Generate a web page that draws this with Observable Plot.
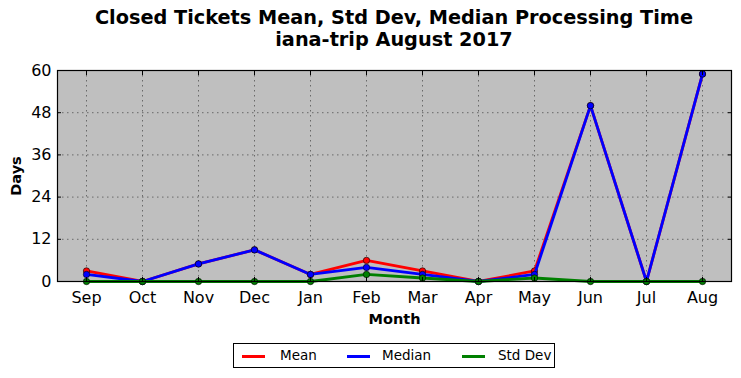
<!DOCTYPE html>
<html>
<head>
<meta charset="utf-8">
<script src="https://cdn.jsdelivr.net/npm/d3@7"></script>
<script src="https://cdn.jsdelivr.net/npm/@observablehq/plot@0.6"></script>
<style>
  body { margin: 0; background: #fff; font-family: "DejaVu Sans", sans-serif; }
  #wrap { position: relative; width: 741px; height: 378px; }
  #title { position: absolute; left: 0; top: 7px; width: 788px; text-align: center; font-weight: bold; font-size: 19.3px; line-height: 22px; color: #000; }
  #chart { position: absolute; left: 0; top: 0; }
  #legend { position: absolute; left: 233px; top: 343px; width: 320px; height: 23px; border: 1px solid #000; background: #fff; font-size: 13.5px; }
  #legend .sw { position: absolute; top: 11px; width: 23px; height: 3px; }
  #legend .lb { position: absolute; top: 3px; line-height: 16px; }
</style>
</head>
<body>
<div id="wrap">
  <div id="chart"></div>
  <div id="title">Closed Tickets Mean, Std Dev, Median Processing Time<br>iana-trip August 2017</div>
  <div id="legend"></div>
</div>
<script>
const months = ["Sep","Oct","Nov","Dec","Jan","Feb","Mar","Apr","May","Jun","Jul","Aug"];
const meanValues   = [3, 0, 5, 9, 2, 6, 3, 0, 3, 50, 0, 59];
const medianValues = [2, 0, 5, 9, 2, 4, 2, 0, 2, 50, 0, 59];
const stdValues    = [0, 0, 0, 0, 0, 2, 1, 0, 1, 0, 0, 0];
const seriesNames  = ["Mean", "Median", "Std Dev"];
const seriesColors = ["#ff0000", "#0000ff", "#008000"];
const yTicks = [0, 12, 24, 36, 48, 60];

const seriesValues = [meanValues, medianValues, stdValues];
const data = [];
seriesNames.forEach((name, si) => {
  months.forEach((m, i) => data.push({series: name, month: m, value: seriesValues[si][i]}));
});

const marks = [
  Plot.frame({fill: "#bfbfbf"}),
  Plot.gridX({stroke: "#000", strokeOpacity: 0.45, strokeDasharray: "1.5,3.5"}),
  Plot.gridY(yTicks, {stroke: "#000", strokeOpacity: 0.45, strokeDasharray: "1.5,3.5"}),
];
seriesNames.forEach((name, si) => {
  const d = data.filter(r => r.series === name);
  marks.push(Plot.line(d, {x: "month", y: "value", stroke: seriesColors[si], strokeWidth: 2.8}));
  marks.push(Plot.dot(d, {x: "month", y: "value", r: 3.2, fill: seriesColors[si], stroke: "#000", strokeWidth: 0.6}));
});
marks.push(
  Plot.axisX({anchor: "bottom", tickSize: 0, tickPadding: 10, fontSize: 16, label: null}),
  Plot.axisX({anchor: "bottom", tickSize: -4, tickFormat: () => "", label: null}),
  Plot.axisX({anchor: "top", tickSize: -4, tickFormat: () => "", label: null}),
  Plot.axisY(yTicks, {anchor: "left", tickSize: 0, tickPadding: 6, fontSize: 16, label: null}),
  Plot.axisY(yTicks, {anchor: "left", tickSize: -4, tickFormat: () => "", label: null}),
  Plot.axisY(yTicks, {anchor: "right", tickSize: -4, tickFormat: () => "", label: null}),
  Plot.frame({stroke: "#000", strokeWidth: 1.2}),
  Plot.text(["Month"], {frameAnchor: "bottom", dy: 38, fontWeight: "bold", fontSize: 14.5, lineAnchor: "middle"}),
  Plot.text(["Days"], {frameAnchor: "left", dx: -41, rotate: -90, fontWeight: "bold", fontSize: 14.5, textAnchor: "middle"})
);

const chart = Plot.plot({
  width: 741,
  height: 378,
  marginTop: 70,
  marginBottom: 97,
  marginLeft: 57,
  marginRight: 10,
  style: {fontFamily: "DejaVu Sans, sans-serif", color: "#000", background: "transparent"},
  x: {type: "point", domain: months, padding: 0.5},
  y: {domain: [0, 60]},
  marks
});
document.getElementById("chart").appendChild(chart);

const legend = document.getElementById("legend");
const swX = [8, 113, 228];
const lbX = [46, 148, 264];
seriesNames.forEach((name, i) => {
  const sw = document.createElement("div");
  sw.className = "sw";
  sw.style.left = swX[i] + "px";
  sw.style.background = seriesColors[i];
  legend.appendChild(sw);
  const lb = document.createElement("div");
  lb.className = "lb";
  lb.style.left = lbX[i] + "px";
  lb.textContent = name;
  legend.appendChild(lb);
});
</script>
</body>
</html>
